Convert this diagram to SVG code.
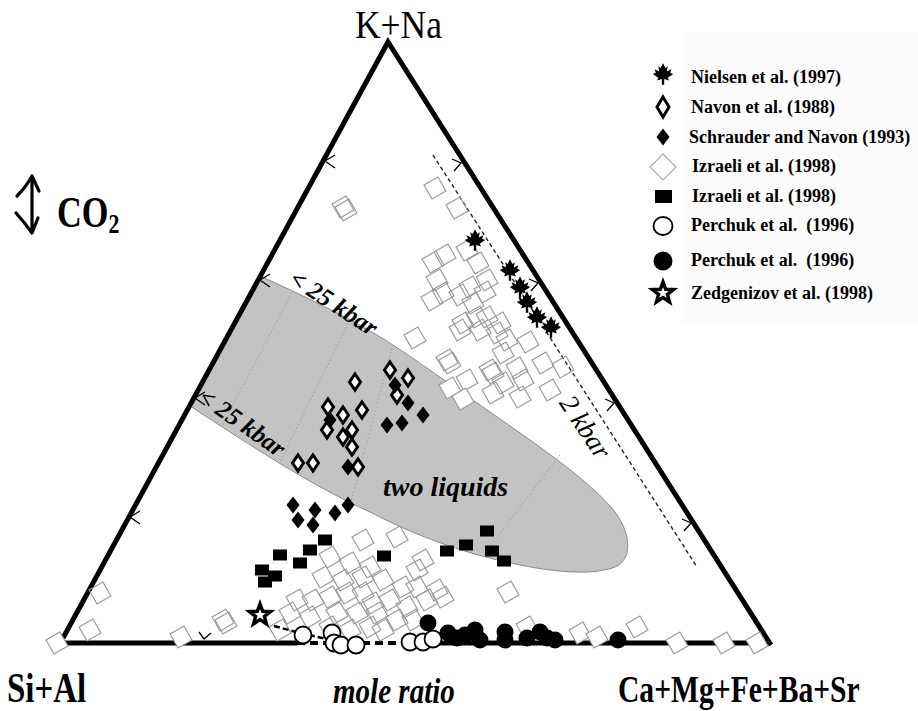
<svg xmlns="http://www.w3.org/2000/svg" width="918" height="711" viewBox="0 0 918 711">
<defs>
<style>
.serif{font-family:"Liberation Serif","Times New Roman",serif}
.leg{font-size:18px;font-weight:bold;white-space:pre}
.sq{fill:none;stroke:#9a9a9a;stroke-width:1.2}
.sqw{fill:#fff;stroke:#9a9a9a;stroke-width:1.2}
.tick{fill:none;stroke:#000;stroke-width:1.3}
.tie{fill:none;stroke:#9a9a9a;stroke-width:0.9;stroke-dasharray:1.5 2.5}
.od{fill:#fff;stroke:#000;stroke-width:3}
.oc{fill:#fff;stroke:#000;stroke-width:1.8}
</style>
<path id="gsq" d="M-10.93,-2.93 L2.93,-10.93 L10.93,2.93 L-2.93,10.93 Z"/>
<path id="maple" d="M0,-10.8 L2.4,-6 L4.8,-7.8 L3.8,-2.4 L8.4,-4.8 L7.2,-1.2 L10.2,0 L4.8,3.8 L6,6.6 L1.2,5 L1.2,10.8 L-1.2,10.8 L-1.2,5 L-6,6.6 L-4.8,3.8 L-10.2,0 L-7.2,-1.2 L-8.4,-4.8 L-3.8,-2.4 L-4.8,-7.8 L-2.4,-6 Z"/>
<path id="odia" d="M0,-8 L5.5,0 L0,8 L-5.5,0 Z"/>
<path id="fdia" d="M0,-8.5 L6.5,0 L0,8.5 L-6.5,0 Z"/>
<rect id="fsq" x="-7" y="-5.5" width="14" height="11"/>
<path id="star" d="M0,-11 L2.7,-3.7 L10.5,-3.4 L4.4,1.4 L6.5,8.9 L0,4.6 L-6.5,8.9 L-4.4,1.4 L-10.5,-3.4 L-2.7,-3.7 Z"/>
</defs>

<rect width="918" height="711" fill="#fff"/>
<rect x="683" y="32" width="235" height="292" fill="#fcfcfc"/>

<g id="two-liquid-field">
<path d="M260,276 C300,294 350,318 385,340 C420,362 450,385 480,405 C530,440 590,480 615,512 C632,535 632,560 615,567 C595,575 560,573 520,565 C470,555 420,538 370,512 C310,485 250,445 190,406 Z" fill="#c3c3c3" stroke="#8a8a8a" stroke-width="1"/>
<path class="tie" d="M292,292 L222,426 M350,320 L280,462 M392,348 L350,505 M560,455 L487,550"/>
</g>

<g id="frame">
<path d="M63,638 L388,42 L771,645" fill="none" stroke="#000" stroke-width="5" stroke-linejoin="miter"/>
<path d="M64,643 L297,643 M420,643 L771,643" fill="none" stroke="#000" stroke-width="5"/>
<path d="M297,643 L420,643" fill="none" stroke="#000" stroke-width="4" stroke-dasharray="8 5"/>
<path class="tick" d="M140,511 L130,517 L140,524 M205,392 L195,398 L205,405 M270,274 L260,280 L270,287 M335,155 L325,161 L335,168"/>
<path class="tick" d="M452,159 L461,163 L454,171 M529,279 L538,283 L531,291 M605,399 L614,403 L607,411 M682,519 L691,523 L684,531"/>
<path class="tick" d="M199,632 L204,639 L211,633"/>
<path d="M433,155 L697,567" fill="none" stroke="#222" stroke-width="1.4" stroke-dasharray="4 3"/>
</g>

<g id="izraeli-open">
<use href="#gsq" class="sq" x="343" y="207"/><use href="#gsq" class="sq" x="346" y="210"/>
<use href="#gsq" class="sq" x="435" y="188"/><use href="#gsq" class="sq" x="457" y="208"/>
<use href="#gsq" class="sq" x="467" y="250"/><use href="#gsq" class="sq" x="433" y="262"/>
<use href="#gsq" class="sq" x="445" y="255"/><use href="#gsq" class="sq" x="478" y="263"/>
<use href="#gsq" class="sq" x="437" y="280"/><use href="#gsq" class="sq" x="487" y="280"/>
<use href="#gsq" class="sq" x="432" y="300"/><use href="#gsq" class="sq" x="443" y="293"/>
<use href="#gsq" class="sq" x="460" y="295"/><use href="#gsq" class="sq" x="485" y="292"/>
<use href="#gsq" class="sq" x="473" y="303"/><use href="#gsq" class="sq" x="477" y="317"/>
<use href="#gsq" class="sq" x="460" y="330"/><use href="#gsq" class="sq" x="480" y="330"/>
<use href="#gsq" class="sq" x="500" y="323"/><use href="#gsq" class="sq" x="415" y="338"/>
<use href="#gsq" class="sq" x="507" y="340"/><use href="#gsq" class="sq" x="528" y="342"/>
<use href="#gsq" class="sq" x="447" y="360"/><use href="#gsq" class="sq" x="450" y="363"/>
<use href="#gsq" class="sq" x="503" y="353"/><use href="#gsq" class="sq" x="493" y="373"/>
<use href="#gsq" class="sq" x="517" y="368"/><use href="#gsq" class="sq" x="543" y="363"/>
<use href="#gsq" class="sq" x="563" y="367"/><use href="#gsq" class="sq" x="467" y="380"/>
<use href="#gsq" class="sq" x="523" y="380"/><use href="#gsq" class="sq" x="550" y="390"/>
<use href="#gsq" class="sq" x="493" y="393"/><use href="#gsq" class="sq" x="520" y="397"/>
<use href="#gsq" class="sq" x="470" y="287"/><use href="#gsq" class="sq" x="463" y="323"/>
<use href="#gsq" class="sq" x="487" y="317"/><use href="#gsq" class="sq" x="497" y="333"/>
<use href="#gsq" class="sq" x="503" y="383"/><use href="#gsq" class="sq" x="490" y="370"/>
<use href="#gsq" class="sqw" x="450" y="388"/><use href="#gsq" class="sqw" x="463" y="399"/>

<use href="#gsq" class="sq" x="363" y="540"/><use href="#gsq" class="sq" x="397" y="537"/>
<use href="#gsq" class="sq" x="330" y="557"/><use href="#gsq" class="sq" x="350" y="563"/>
<use href="#gsq" class="sq" x="370" y="567"/><use href="#gsq" class="sq" x="423" y="560"/>
<use href="#gsq" class="sq" x="417" y="570"/><use href="#gsq" class="sq" x="323" y="577"/>
<use href="#gsq" class="sq" x="343" y="580"/><use href="#gsq" class="sq" x="363" y="577"/>
<use href="#gsq" class="sq" x="383" y="580"/><use href="#gsq" class="sq" x="403" y="587"/>
<use href="#gsq" class="sq" x="417" y="587"/><use href="#gsq" class="sq" x="437" y="590"/>
<use href="#gsq" class="sq" x="443" y="597"/><use href="#gsq" class="sq" x="297" y="600"/>
<use href="#gsq" class="sq" x="313" y="600"/><use href="#gsq" class="sq" x="330" y="597"/>
<use href="#gsq" class="sq" x="347" y="593"/><use href="#gsq" class="sq" x="363" y="593"/>
<use href="#gsq" class="sq" x="373" y="603"/><use href="#gsq" class="sq" x="390" y="600"/>
<use href="#gsq" class="sq" x="407" y="607"/><use href="#gsq" class="sq" x="427" y="600"/>
<use href="#gsq" class="sq" x="290" y="613"/><use href="#gsq" class="sq" x="310" y="617"/>
<use href="#gsq" class="sq" x="337" y="613"/><use href="#gsq" class="sq" x="357" y="613"/>
<use href="#gsq" class="sq" x="377" y="613"/><use href="#gsq" class="sq" x="397" y="620"/>
<use href="#gsq" class="sq" x="413" y="620"/><use href="#gsq" class="sq" x="330" y="627"/>
<use href="#gsq" class="sq" x="350" y="630"/><use href="#gsq" class="sq" x="370" y="627"/>
<use href="#gsq" class="sq" x="383" y="630"/><use href="#gsq" class="sq" x="280" y="630"/>
<use href="#gsq" class="sq" x="508" y="592"/><use href="#gsq" class="sq" x="527" y="627"/>
<use href="#gsq" class="sq" x="100" y="593"/><use href="#gsq" class="sq" x="90" y="630"/>
<use href="#gsq" class="sq" x="223" y="620"/><use href="#gsq" class="sq" x="226" y="623"/>
<use href="#gsq" class="sq" x="637" y="627"/>
<use href="#gsq" class="sqw" x="57" y="643"/><use href="#gsq" class="sqw" x="181" y="637"/>
<use href="#gsq" class="sqw" x="580" y="633"/><use href="#gsq" class="sqw" x="597" y="637"/>
<use href="#gsq" class="sqw" x="677" y="643"/><use href="#gsq" class="sqw" x="724" y="643"/>
<use href="#gsq" class="sqw" x="757" y="643"/>
</g>

<g id="nielsen">
<use href="#maple" x="475" y="240"/><use href="#maple" x="510" y="270"/>
<use href="#maple" x="520" y="287"/><use href="#maple" x="527" y="302"/>
<use href="#maple" x="537" y="317"/><use href="#maple" x="551" y="327"/>
</g>

<g id="navon">
<use href="#odia" class="od" x="390" y="370"/><use href="#odia" class="od" x="408" y="378"/>
<use href="#odia" class="od" x="355" y="382"/><use href="#odia" class="od" x="397" y="395"/>
<use href="#odia" class="od" x="362" y="410"/><use href="#odia" class="od" x="328" y="407"/>
<use href="#odia" class="od" x="343" y="415"/><use href="#odia" class="od" x="327" y="430"/>
<use href="#odia" class="od" x="352" y="430"/><use href="#odia" class="od" x="343" y="437"/>
<use href="#odia" class="od" x="352" y="447"/><use href="#odia" class="od" x="298" y="463"/>
<use href="#odia" class="od" x="313" y="463"/><use href="#odia" class="od" x="358" y="467"/>
</g>

<g id="schrauder">
<use href="#fdia" x="395" y="385"/><use href="#fdia" x="408" y="403"/>
<use href="#fdia" x="423" y="415"/><use href="#fdia" x="387" y="425"/>
<use href="#fdia" x="402" y="423"/><use href="#fdia" x="330" y="420"/>
<use href="#fdia" x="348" y="467"/>
<use href="#fdia" x="293" y="505"/><use href="#fdia" x="315" y="510"/>
<use href="#fdia" x="348" y="505"/><use href="#fdia" x="335" y="513"/>
<use href="#fdia" x="298" y="520"/><use href="#fdia" x="313" y="525"/>
</g>

<g id="izraeli-filled">
<use href="#fsq" x="325" y="540"/><use href="#fsq" x="280" y="555"/>
<use href="#fsq" x="310" y="550"/><use href="#fsq" x="300" y="563"/>
<use href="#fsq" x="262" y="570"/><use href="#fsq" x="275" y="576"/>
<use href="#fsq" x="265" y="582"/><use href="#fsq" x="384" y="556"/>
<use href="#fsq" x="447" y="551"/><use href="#fsq" x="466" y="545"/>
<use href="#fsq" x="487" y="531"/><use href="#fsq" x="492" y="551"/>
<use href="#fsq" x="504" y="561"/>
</g>

<g id="zedgenizov">
<path d="M274,626 L300,633 L340,642" fill="none" stroke="#000" stroke-width="2.5" stroke-dasharray="6 3"/>
<use href="#star" x="260" y="615" fill="#fff" stroke="#000" stroke-width="3.5"/>
</g>

<g id="perchuk-open">
<circle class="oc" cx="303" cy="635" r="8.5"/><circle class="oc" cx="332" cy="633" r="8.5"/>
<circle class="oc" cx="334" cy="643" r="8.5"/><circle class="oc" cx="341" cy="645" r="8.5"/>
<circle class="oc" cx="356" cy="645" r="8.5"/><circle class="oc" cx="410" cy="642" r="8.5"/>
<circle class="oc" cx="423" cy="642" r="8.5"/><circle class="oc" cx="433" cy="639" r="8.5"/>
</g>

<g id="perchuk-filled">
<circle cx="428" cy="623" r="8.5"/><circle cx="448" cy="633" r="8.5"/>
<circle cx="457" cy="638" r="8.5"/><circle cx="465" cy="635" r="8.5"/>
<circle cx="475" cy="630" r="8.5"/><circle cx="480" cy="640" r="8.5"/>
<circle cx="505" cy="632" r="8.5"/><circle cx="505" cy="640" r="8.5"/>
<circle cx="527" cy="638" r="8.5"/><circle cx="540" cy="632" r="8.5"/>
<circle cx="547" cy="638" r="8.5"/><circle cx="555" cy="640" r="8.5"/>
<circle cx="618" cy="640" r="8.5"/>
</g>

<g id="field-labels" class="serif">
<text transform="translate(288,283) rotate(33)" font-size="25" font-weight="bold" font-style="italic">&lt; 25 kbar</text>
<text transform="translate(197,401) rotate(35)" font-size="25" font-weight="bold" font-style="italic">&lt; 25 kbar</text>
<text x="383" y="496" font-size="28" font-weight="bold" font-style="italic">two liquids</text>
<text transform="translate(578,432) rotate(56)" font-size="27" font-style="italic" text-anchor="middle">2 kbar</text>
</g>

<g id="axis-labels" class="serif">
<text transform="translate(355,38) scale(0.91,1)" font-size="39">K+Na</text>
<text transform="translate(7,702) scale(0.765,1)" font-size="43" font-weight="bold">Si+Al</text>
<text transform="translate(333,703) scale(0.83,1)" font-size="35" font-weight="bold" font-style="italic">mole ratio</text>
<text transform="translate(618,702) scale(0.8,1)" font-size="37" font-weight="bold">Ca+Mg+Fe+Ba+Sr</text>
</g>

<g id="co2">
<path d="M32,180 L32,229 M17,196 Q26,187 32,176 L39,191 M16,213 Q25,223 32,233 L38,218" fill="none" stroke="#000" stroke-width="3.2" stroke-linecap="round" stroke-linejoin="round"/>
<text class="serif" transform="translate(57,227) scale(0.78,1)" font-size="44" font-weight="bold">CO<tspan font-size="28" dy="6">2</tspan></text>
</g>

<g id="legend" class="serif">
<g id="leg-nielsen"><use href="#maple" x="663" y="74"/><text class="leg" x="691" y="83">Nielsen et al. (1997)</text></g>
<g id="leg-navon"><path d="M663,97 L669,107 L663,117 L657,107 Z" fill="#fff" stroke="#000" stroke-width="3"/><text class="leg" x="691" y="113">Navon et al. (1988)</text></g>
<g id="leg-schrauder"><use href="#fdia" x="663" y="137"/><text class="leg" x="689" y="143">Schrauder and Navon (1993)</text></g>
<g id="leg-izraeli-open"><path d="M663,154 L676,167 L663,180 L650,167 Z" fill="none" stroke="#aaa" stroke-width="1.2"/><text class="leg" x="692" y="172">Izraeli et al. (1998)</text></g>
<g id="leg-izraeli-filled"><rect x="655" y="190" width="17" height="13"/><text class="leg" x="692" y="202">Izraeli et al. (1998)</text></g>
<g id="leg-perchuk-open"><ellipse cx="663" cy="226" rx="9.5" ry="9" fill="#fff" stroke="#000" stroke-width="1.8"/><text class="leg" x="691" y="231">Perchuk et al.  (1996)</text></g>
<g id="leg-perchuk-filled"><circle cx="663" cy="261" r="9.5"/><text class="leg" x="691" y="266">Perchuk et al.  (1996)</text></g>
<g id="leg-zedgenizov"><use href="#star" x="663" y="293" fill="#fff" stroke="#000" stroke-width="3.5"/><text class="leg" x="691" y="299">Zedgenizov et al. (1998)</text></g>
</g>
</svg>
